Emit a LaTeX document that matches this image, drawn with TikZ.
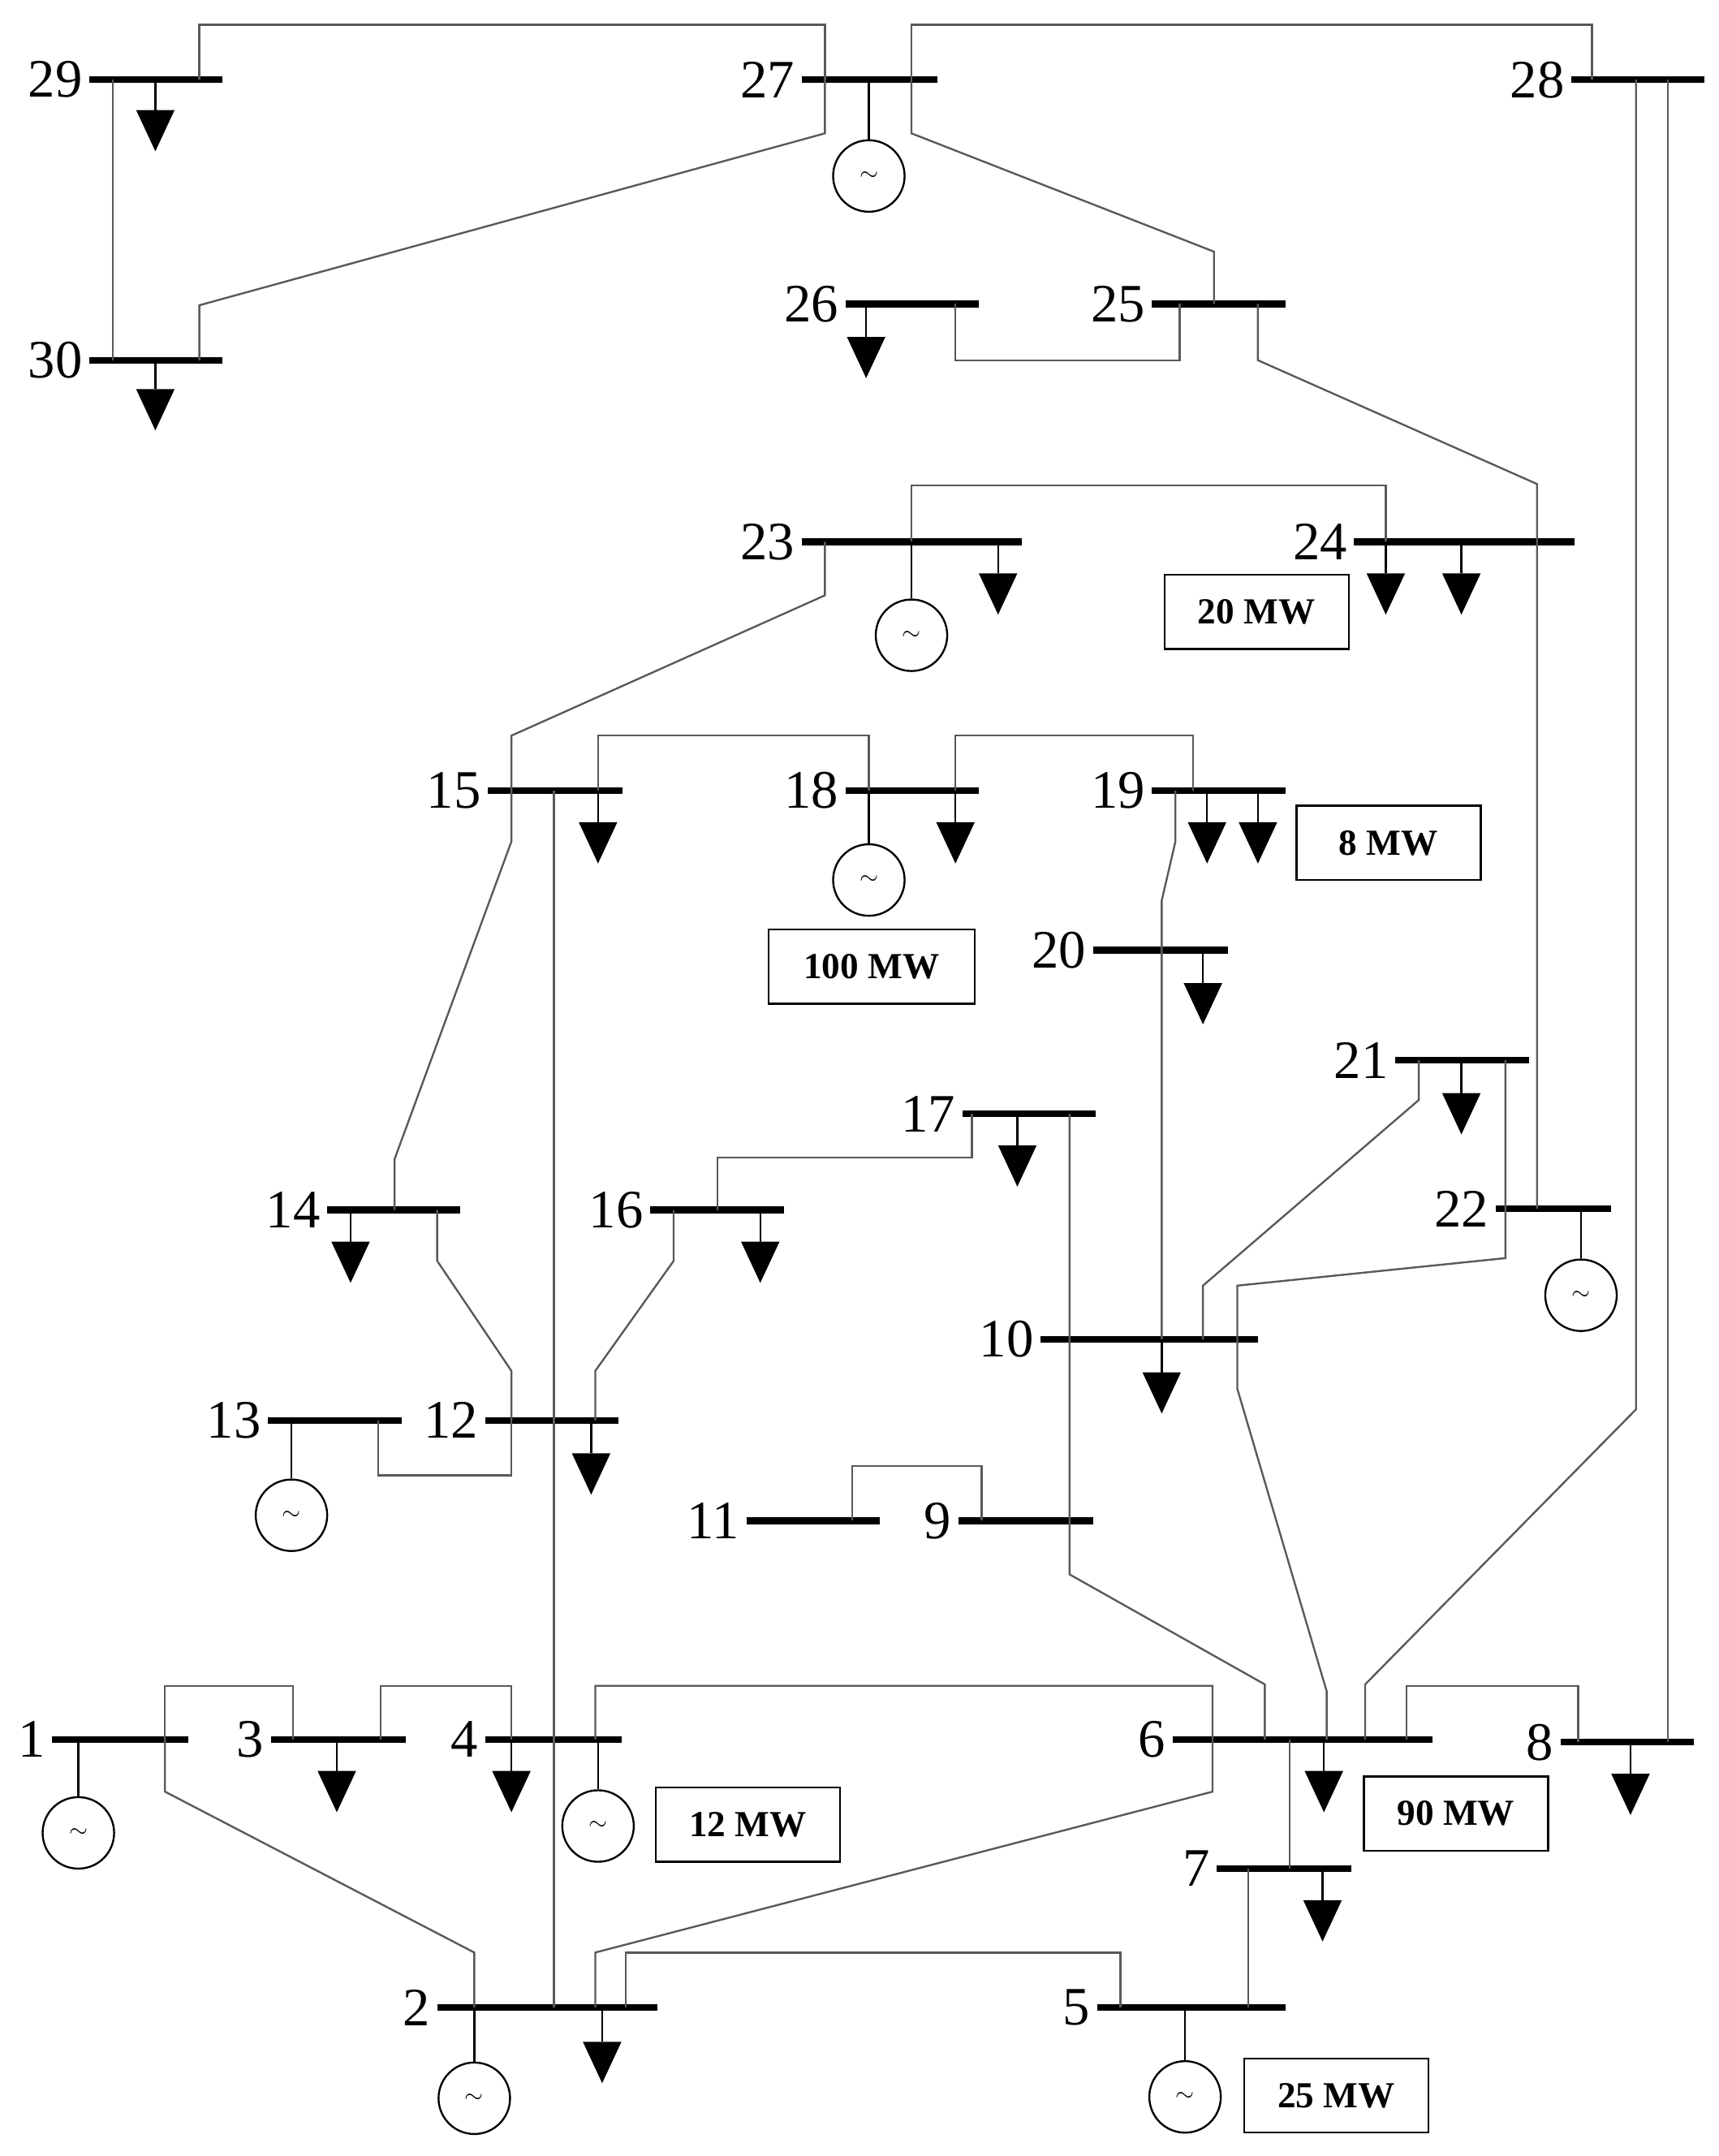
\documentclass[tikz,border=0pt]{standalone}
\usepackage{fontspec}
\setmainfont{Liberation Serif}
\begin{document}
\begin{tikzpicture}[x=0.05cm,y=-0.05cm,
  busl/.style={line width=7pt},
  ln/.style={draw=black!65,line width=2pt},
  lbl/.style={anchor=east,inner sep=0pt,font=\fontsize{56}{60}\selectfont},
  box/.style={draw,line width=2pt,minimum width=6.7cm,minimum height=2.7cm,font=\fontsize{38}{42}\selectfont\bfseries,inner sep=0pt},
  gen/.style={circle,draw,line width=2pt,minimum size=2.6cm,inner sep=0pt,font=\fontsize{60}{60}\selectfont}]
\useasboundingbox (0,0) rectangle (1250,1568);
\newcommand\mybus[5]{\draw[busl] (#2,#4) coordinate (#1l) -- (#3,#4) coordinate (#1r);
  \node[lbl] (#1t) at (#2-5,#4) {#5};}
\newcommand\myload[4]{\draw[line width=2pt] (#2,#3) -- (#2,#4-30);
  \fill (#2-14,#4-30) -- (#2+14,#4-30) -- (#2,#4) -- cycle;}
\newcommand\mygen[4]{\node[gen] (#1) at (#2,#4) {$\sim$}; \draw[line width=2pt] (#2,#3) -- (#1);}
% buses
\mybus{b29}{65}{162}{58}{29}
\mybus{b27}{583}{682}{58}{27}
\mybus{b28}{1143}{1240}{58}{28}
\mybus{b30}{65}{162}{262}{30}
\mybus{b26}{615}{712}{221}{26}
\mybus{b25}{838}{935}{221}{25}
\mybus{b23}{583}{743}{394}{23}
\mybus{b24}{985}{1145}{394}{24}
\mybus{b15}{355}{453}{575}{15}
\mybus{b18}{615}{712}{575}{18}
\mybus{b19}{838}{935}{575}{19}
\mybus{b20}{795}{893}{691}{20}
\mybus{b21}{1015}{1112}{771}{21}
\mybus{b17}{700}{797}{810}{17}
\mybus{b14}{238}{335}{880}{14}
\mybus{b16}{473}{570}{880}{16}
\mybus{b22}{1088}{1172}{879}{22}
\mybus{b10}{757}{915}{974}{10}
\mybus{b13}{195}{292}{1033}{13}
\mybus{b12}{353}{450}{1033}{12}
\mybus{b11}{543}{640}{1106}{11}
\mybus{b9}{697}{795}{1106}{9}
\mybus{b1}{38}{137}{1265}{1}
\mybus{b3}{197}{295}{1265}{3}
\mybus{b4}{353}{452}{1265}{4}
\mybus{b6}{853}{1042}{1265}{6}
\mybus{b8}{1135}{1232}{1267}{8}
\mybus{b7}{885}{983}{1359}{7}
\mybus{b2}{318}{478}{1460}{2}
\mybus{b5}{798}{935}{1460}{5}
% lines
\draw[ln] (145,58) -- (145,18) -- (600,18) -- (600,58);
\draw[ln] (663,58) -- (663,18) -- (1158,18) -- (1158,58);
\draw[ln] (82,58) -- (82,262);
\draw[ln] (600,58) -- (600,97) -- (145,222) -- (145,262);
\draw[ln] (663,58) -- (663,97) -- (883,183) -- (883,221);
\draw[ln] (695,221) -- (695,262) -- (858,262) -- (858,221);
\draw[ln] (915,221) -- (915,262) -- (1118,352) -- (1118,840) -- (1118,879);
\draw[ln] (663,394) -- (663,353) -- (1008,353) -- (1008,394);
\draw[ln] (600,394) -- (600,433) -- (372,535) -- (372,575);
\draw[ln] (435,575) -- (435,535) -- (632,535) -- (632,575);
\draw[ln] (695,575) -- (695,535) -- (868,535) -- (868,575);
\draw[ln] (372,575) -- (372,612) -- (287,843) -- (287,880);
\draw[ln] (403,575) -- (403,1460);
\draw[ln] (855,575) -- (855,612) -- (845,655) -- (845,974);
\draw[ln] (1032,771) -- (1032,800) -- (875,935) -- (875,974);
\draw[ln] (1095,771) -- (1095,915) -- (900,935) -- (900,1010) -- (965,1230) -- (965,1265);
\draw[ln] (707,810) -- (707,842) -- (522,842) -- (522,880);
\draw[ln] (490,880) -- (490,917) -- (433,997) -- (433,1033);
\draw[ln] (318,880) -- (318,917) -- (372,997) -- (372,1033);
\draw[ln] (275,1033) -- (275,1073) -- (372,1073) -- (372,1033);
\draw[ln] (620,1106) -- (620,1066) -- (714,1066) -- (714,1106);
\draw[ln] (778,810) -- (778,1145) -- (920,1225) -- (920,1265);
\draw[ln] (1190,58) -- (1190,1025) -- (993,1225) -- (993,1265);
\draw[ln] (1213,58) -- (1213,1267);
\draw[ln] (1023,1265) -- (1023,1226) -- (1148,1226) -- (1148,1267);
\draw[ln] (120,1265) -- (120,1226) -- (213,1226) -- (213,1265);
\draw[ln] (277,1265) -- (277,1226) -- (372,1226) -- (372,1265);
\draw[ln] (120,1265) -- (120,1303) -- (345,1420) -- (345,1460);
\draw[ln] (433,1265) -- (433,1226) -- (882,1226) -- (882,1303) -- (433,1420) -- (433,1460);
\draw[ln] (455,1460) -- (455,1420) -- (815,1420) -- (815,1460);
\draw[ln] (908,1460) -- (908,1359);
\draw[ln] (938,1265) -- (938,1359);
% loads
\myload{l29}{113}{58}{110}
\myload{l30}{113}{262}{313}
\myload{l26}{630}{221}{275}
\myload{l23}{726}{394}{447}
\myload{l24a}{1008}{394}{447}
\myload{l24b}{1063}{394}{447}
\myload{l15}{435}{575}{628}
\myload{l18}{695}{575}{628}
\myload{l19a}{878}{575}{628}
\myload{l19b}{915}{575}{628}
\myload{l20}{875}{691}{745}
\myload{l21}{1063}{771}{825}
\myload{l17}{740}{810}{863}
\myload{l14}{255}{880}{933}
\myload{l16}{553}{880}{933}
\myload{l10}{845}{974}{1028}
\myload{l12}{430}{1033}{1087}
\myload{l3}{245}{1265}{1318}
\myload{l4}{372}{1265}{1318}
\myload{l6}{963}{1265}{1318}
\myload{l7}{962}{1359}{1412}
\myload{l8}{1186}{1267}{1320}
\myload{l2}{438}{1460}{1515}
% generators
\mygen{g27}{632}{58}{128}
\mygen{g23}{663}{394}{462}
\mygen{g18}{632}{575}{640}
\mygen{g22}{1150}{879}{942}
\mygen{g13}{212}{1033}{1102}
\mygen{g1}{57}{1265}{1333}
\mygen{g4}{435}{1265}{1328}
\mygen{g2}{345}{1460}{1526}
\mygen{g5}{862}{1460}{1525}
% boxes
\node[box] (m20) at (914,445) {20 MW};
\node[box] (m8) at (1010,613) {8 MW};
\node[box,minimum width=7.5cm] (m100) at (634,703) {100 MW};
\node[box] (m12) at (544,1327) {12 MW};
\node[box] (m90) at (1059,1319) {90 MW};
\node[box] (m25) at (972,1524) {25 MW};
\end{tikzpicture}
\end{document}
